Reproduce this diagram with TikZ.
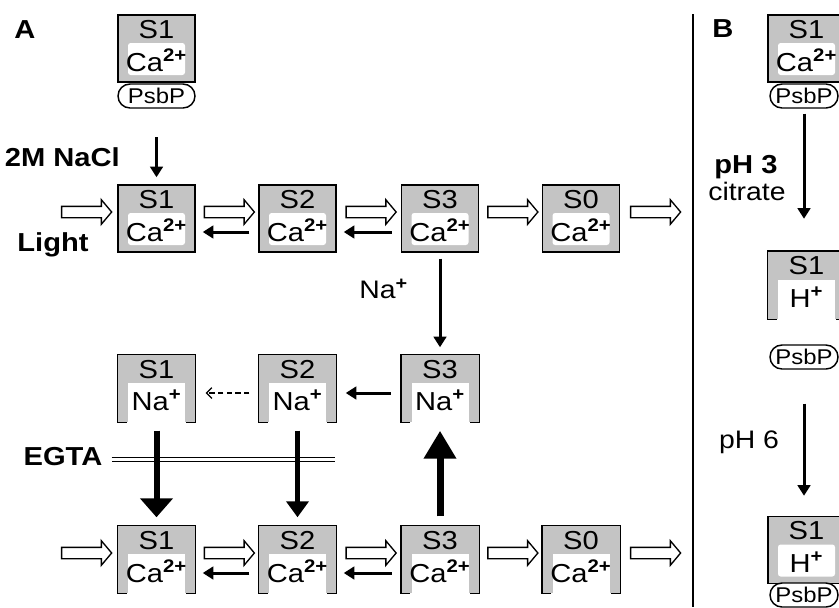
\documentclass[tikz,border=0pt]{standalone}
\usepackage{fontspec}
\setmainfont[FakeStretch=1.12]{Liberation Sans}
\usetikzlibrary{arrows.meta,shapes.misc,shapes.arrows,calc,positioning}

\tikzset{every picture/.style={line width=1.1pt}}
\tikzset{
	dotfill/.style={fill=black!23},
	sbox/.style={dotfill, draw, minimum width=57.75pt, minimum height=50.25pt, inner sep=0pt,
		path picture={\fill[white, rounded corners=2pt] ([shift={(7.5pt,5.25pt)}]path picture bounding box.south west) rectangle ([shift={(-7.5pt,-21pt)}]path picture bounding box.north east);}},
	obox/.style={dotfill, minimum width=57.75pt, minimum height=50.25pt, inner sep=0pt,
		path picture={\fill[white] ([shift={(7.5pt,-1pt)}]path picture bounding box.south west) rectangle ([shift={(-7.5pt,-21pt)}]path picture bounding box.north east);}},
	stop/.style={anchor=center, yshift=-11.25pt, inner sep=0pt, font=\fontsize{19.5}{19.5}\selectfont},
	sion/.style={anchor=center, yshift=16.5pt, inner sep=0pt, font=\fontsize{19.5}{19.5}\selectfont},
	psbp/.style={rounded rectangle, draw, fill=white, minimum width=57.75pt, minimum height=18pt, inner sep=0pt, font=\fontsize{16}{16}\selectfont},
	hollow/.style={single arrow, draw, line width=1pt, fill=white, minimum height=37.5pt, inner xsep=0pt, inner ysep=3.75pt, single arrow head extend=4.9pt, single arrow tip angle=100},
	fwd/.style={line width=2.25pt, -{Triangle[length=8pt,width=9.5pt]}},
	back/.style={fwd, shorten <=6.75pt, shorten >=5.25pt},
	dashback/.style={line width=0.9pt, dash pattern=on 4pt off 2.5pt, shorten <=6.75pt, shorten >=7.5pt, -{Straight Barb[length=4pt,width=8pt]}},
	egtabig/.style={line width=4.5pt, -{Triangle[length=14.25pt,width=24pt]}},
	egtasmall/.style={line width=3.4pt, -{Triangle[length=12pt,width=16.5pt]}},
	uparrow/.style={line width=5.25pt, -{Triangle[length=21pt,width=23.25pt]}},
	bold/.style={font=\fontsize{19.5}{19.5}\selectfont\bfseries},
	txt/.style={font=\fontsize{19}{19}\selectfont}
}

\begin{document}
\begin{tikzpicture}[x=0.75pt,y=0.75pt,yscale=-1,xscale=1]
	\useasboundingbox (0,0) rectangle (839,607);

	% panel A, starting state with PsbP
	\node[sbox, label={[stop]above:S1}, label={[sion]below:Ca\textsuperscript{\textbf{2+}}}] (a0) at (156.5,48.5) {};
	\node[psbp] (p0) at (156.5,96) {PsbP};

	% first cycle
	\node[sbox, label={[stop]above:S1}, label={[sion]below:Ca\textsuperscript{\textbf{2+}}}] (a1) at (156.5,218.5) {};
	\node[sbox, label={[stop]above:S2}, label={[sion]below:Ca\textsuperscript{\textbf{2+}}}] (a2) at (297.5,218.5) {};
	\node[sbox, label={[stop]above:S3}, label={[sion]below:Ca\textsuperscript{\textbf{2+}}}] (a3) at (440,218.5) {};
	\node[sbox, label={[stop]above:S0}, label={[sion]below:Ca\textsuperscript{\textbf{2+}}}] (a4) at (581,218.5) {};

	% Na+ states
	\node[obox, label={[stop]above:S1}, label={[sion]below:Na\textsuperscript{\textbf{+}}}] (b1) at (156.5,388.5) {};
	\node[obox, label={[stop]above:S2}, label={[sion]below:Na\textsuperscript{\textbf{+}}}] (b2) at (297.5,388.5) {};
	\node[obox, label={[stop]above:S3}, label={[sion]below:Na\textsuperscript{\textbf{+}}}] (b3) at (440,388.5) {};

	% second cycle
	\node[obox, label={[stop]above:S1}, label={[sion]below:Ca\textsuperscript{\textbf{2+}}}] (c1) at (156.5,559.5) {};
	\node[obox, label={[stop]above:S2}, label={[sion]below:Ca\textsuperscript{\textbf{2+}}}] (c2) at (297.5,559.5) {};
	\node[obox, label={[stop]above:S3}, label={[sion]below:Ca\textsuperscript{\textbf{2+}}}] (c3) at (440,559.5) {};
	\node[obox, label={[stop]above:S0}, label={[sion]below:Ca\textsuperscript{\textbf{2+}}}] (c4) at (581,559.5) {};

	% panel B
	\node[sbox, label={[stop]above:S1}, label={[sion]below:Ca\textsuperscript{\textbf{2+}}}] (d1) at (806.5,48.5) {};
	\node[psbp, minimum width=51pt] (q1) at (804,96) {PsbP};
	\node[obox, label={[stop]above:S1}, label={[sion]below:H\textsuperscript{\textbf{+}}}] (d2) at (806.5,285) {};
	\node[psbp, minimum width=51pt] (q2) at (804,357) {PsbP};
	\node[sbox, label={[stop]above:S1}, label={[sion]below:H\textsuperscript{\textbf{+}}}] (d3) at (806.5,550) {};
	\node[psbp, minimum width=51pt] (q3) at (804,595) {PsbP};

	% open boxes
	\foreach \n in {b1,b2,b3,c1,c2,c3,c4,d2}
		\draw ([xshift=7pt]\n.south west) -- (\n.south west) -- (\n.north west) -- (\n.north east) -- (\n.south east) -- ([xshift=-7pt]\n.south east);

	% labels
	\node[bold] (ta) at (25,30) {A};
	\node[bold] (tb) at (723,29) {B};
	\node[bold, anchor=east] (nacl) at (125,157) {2M NaCl};
	\node[bold] (light) at (53,245) {Light};
	\node[bold] (egta) at (63,457) {EGTA};
	\node[txt, anchor=east] (nat) at (413,289) {Na\textsuperscript{\textbf{+}}};
	\node[bold] (ph3) at (746,167) {pH 3};
	\node[txt] (citr) at (747,191) {citrate};
	\node[txt] (ph6) at (749,442) {pH 6};

	% light flashes
	\node[hollow] (l1) at ($(a1.west)+(-33,-6.5)$) {};
	\node[hollow] (l2) at ($(a1.east)!0.5!(a2.west)+(0,-6.5)$) {};
	\node[hollow] (l3) at ($(a2.east)!0.5!(a3.west)+(0,-6.5)$) {};
	\node[hollow] (l4) at ($(a3.east)!0.5!(a4.west)+(0,-6.5)$) {};
	\node[hollow] (l5) at ($(a4.east)+(33,-6.5)$) {};
	\node[hollow] (m1) at ($(c1.west)+(-33,-6.5)$) {};
	\node[hollow] (m2) at ($(c1.east)!0.5!(c2.west)+(0,-6.5)$) {};
	\node[hollow] (m3) at ($(c2.east)!0.5!(c3.west)+(0,-6.5)$) {};
	\node[hollow] (m4) at ($(c3.east)!0.5!(c4.west)+(0,-6.5)$) {};
	\node[hollow] (m5) at ($(c4.east)+(33,-6.5)$) {};

	% back reactions
	\draw[back] ($(a2.west)+(0,13.5)$) -- ($(a1.east)+(0,13.5)$);
	\draw[back] ($(a3.west)+(0,13.5)$) -- ($(a2.east)+(0,13.5)$);
	\draw[back] ($(c2.west)+(0,13.5)$) -- ($(c1.east)+(0,13.5)$);
	\draw[back] ($(c3.west)+(0,13.5)$) -- ($(c2.east)+(0,13.5)$);

	% Na+ branch
	\coordinate (naclstart) at (156.5,137);
	\draw[fwd] (naclstart) -- ($(a1.north)+(0,-7)$);
	\draw[fwd] ($(a3.south)+(0,6)$) -- ($(b3.north)+(0,-7)$);
	\draw[back, shorten <=7.5pt, shorten >=6.75pt] ($(b3.west)+(0,4.5)$) -- ($(b2.east)+(0,4.5)$);
	\draw[dashback] ($(b2.west)+(0,4.5)$) -- ($(b1.east)+(0,4.5)$);

	% EGTA
	\coordinate (egtaend) at (335,459);
	\draw[double, double distance=2.25pt, line width=0.75pt] ($(egta.east)+(4,2)$) -- (egtaend);
	\draw[egtabig] ($(b1.south)+(0,8)$) -- ($(c1.north)+(0,-8)$);
	\draw[egtasmall] ($(b2.south)+(0,8)$) -- ($(c2.north)+(0,-8)$);
	\draw[uparrow] ($(c3.north)+(0,-9)$) -- ($(b3.south)+(0,8)$);

	% panel B arrows
	\draw[fwd] ($(q1.south)+(0,5)$) -- ($(q1.south |- d2.north)+(0,-32)$);
	\draw[fwd] ($(q2.south)+(0,34)$) -- ($(q2.south |- d3.north)+(0,-20)$);

	% separator
	\draw (693,14) -- (693,607);
\end{tikzpicture}
\end{document}
